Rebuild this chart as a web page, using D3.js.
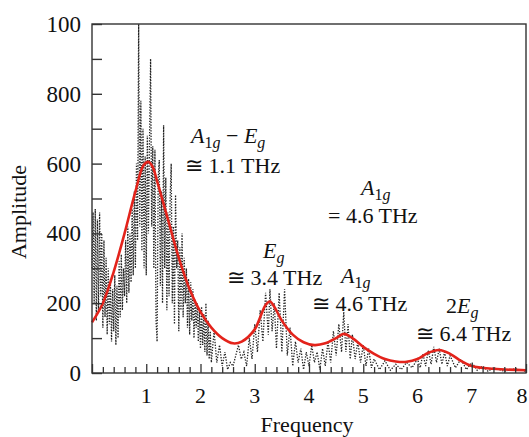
<!DOCTYPE html>
<html><head><meta charset="utf-8">
<script src="https://cdn.jsdelivr.net/npm/d3@7"></script>
<style>body{margin:0;background:#fff}svg{display:block}</style>
</head><body>
<svg id="c" width="529" height="437" font-family="Liberation Serif, Times New Roman, serif"></svg>
<script>
// fitted (red) curve: frequency, amplitude
const fitFreq = [0,0.2,0.4,0.6,0.8,0.95,1.04,1.12,1.2,1.4,1.6,1.8,2.0,2.2,2.4,2.6,2.76,3.0,3.1,3.2,3.28,3.36,3.5,3.7,3.9,4.1,4.3,4.5,4.64,4.8,5.0,5.2,5.4,5.6,5.8,6.0,6.2,6.4,6.6,6.8,7.0,7.4,8.0];
const fitAmp  = [145,200,290,400,520,595,605,590,550,440,330,240,175,130,100,85,90,125,160,195,205,190,150,110,88,80,85,100,112,100,75,55,40,33,32,40,58,66,55,35,20,12,8];
// measured (dotted) spectrum
const rawFreq = [0,0.02,0.04,0.06,0.08,0.10,0.12,0.14,0.16,0.18,0.20,0.22,0.24,0.26,0.28,0.30,0.32,0.34,0.36,0.38,0.40,0.42,0.44,0.46,0.48,0.50,0.52,0.54,0.56,0.58,0.60,0.62,0.64,0.66,0.68,0.70,0.72,0.74,0.76,0.78,0.80,0.82,0.84,0.86,0.88,0.90,0.92,0.94,0.96,0.98,1.00,1.02,1.04,1.06,1.08,1.10,1.12,1.14,1.16,1.18,1.20,1.22,1.24,1.26,1.28,1.30,1.32,1.34,1.36,1.38,1.40,1.42,1.44,1.46,1.48,1.50,1.52,1.54,1.56,1.58,1.60,1.62,1.64,1.66,1.68,1.70,1.72,1.74,1.76,1.78,1.80,1.82,1.84,1.86,1.88,1.90,1.92,1.94,1.96,1.98,2.00,2.02,2.04,2.06,2.08,2.10,2.12,2.14,2.16,2.18,2.20,2.25,2.30,2.35,2.40,2.45,2.50,2.55,2.60,2.65,2.70,2.75,2.80,2.85,2.90,2.95,3.00,3.05,3.10,3.15,3.20,3.25,3.28,3.32,3.36,3.40,3.45,3.50,3.55,3.60,3.65,3.70,3.75,3.80,3.85,3.90,3.95,4.00,4.05,4.10,4.15,4.20,4.25,4.30,4.35,4.40,4.45,4.50,4.55,4.60,4.64,4.68,4.72,4.76,4.80,4.85,4.90,4.95,5.00,5.05,5.10,5.15,5.20,5.30,5.40,5.50,5.60,5.70,5.80,5.90,6.00,6.05,6.10,6.15,6.20,6.25,6.30,6.35,6.40,6.45,6.50,6.55,6.60,6.70,6.80,6.90,7.00,7.10,7.20,7.30,7.40,7.60,7.80,8.00];
const rawAmp  = [300,460,200,470,150,440,180,460,220,400,130,380,160,330,110,300,140,260,90,240,120,280,80,250,100,320,160,340,180,300,220,380,200,420,230,400,260,470,280,520,300,600,380,1000,420,780,350,700,300,620,280,680,400,660,900,420,650,300,640,150,90,560,610,250,520,200,710,300,560,180,460,220,500,600,200,420,140,510,300,380,120,360,180,400,160,330,200,300,130,270,110,260,150,240,100,210,130,200,90,180,70,190,80,170,60,200,50,150,40,120,30,120,30,80,20,60,10,30,20,50,80,40,60,20,100,40,140,60,180,90,230,110,240,120,200,70,230,60,240,50,130,20,90,30,70,10,60,20,80,30,60,10,70,20,90,30,120,50,140,60,175,60,140,40,110,40,90,30,80,20,70,15,40,10,35,8,25,10,30,15,40,15,55,20,65,25,75,30,70,25,60,20,50,15,40,10,30,8,20,5,15,5,12,5];
const yTickValues = [0,200,400,600,800,1000];
const yTickLabels = ["0","200","400","600","800","100"];
const xTickValues = [1,2,3,4,5,6,7,8];
const xTickLabels = ["1","2","3","4","5","6","7","8"];

const svg = d3.select("#c");
const L=92,R=526,T=24,B=373;
const x = d3.scaleLinear().domain([0,8]).range([L,R]);
const y = d3.scaleLinear().domain([0,1000]).range([B,T]);

const raw = rawFreq.map((f,i)=>[f,rawAmp[i]]);
const fit = fitFreq.map((f,i)=>[f,fitAmp[i]]);

svg.append("path").datum(raw)
  .attr("d", d3.line().x(d=>x(d[0])).y(d=>y(d[1])))
  .attr("fill","none").attr("stroke","#222").attr("stroke-width",1.3)
  .attr("stroke-dasharray","1.3,1.5");

svg.append("path").datum(fit)
  .attr("d", d3.line().curve(d3.curveCatmullRom.alpha(0.5)).x(d=>x(d[0])).y(d=>y(d[1])))
  .attr("fill","none").attr("stroke","#e3231b").attr("stroke-width",2.6);

// frame
svg.append("rect").attr("x",L).attr("y",T).attr("width",R-L).attr("height",B-T)
  .attr("fill","none").attr("stroke","#333").attr("stroke-width",1.4);

// y axis
const yAx = d3.axisLeft(y).tickValues(d3.range(0,1001,100)).tickSize(-10).tickFormat("");
const gy = svg.append("g").attr("transform",`translate(${L},0)`).call(yAx);
gy.select(".domain").remove();
gy.selectAll("line").attr("stroke","#333").attr("stroke-width",1.4);
svg.append("g").selectAll("text").data(yTickValues).join("text")
  .attr("x",L-11).attr("y",d=>y(d)).attr("dy","0.35em").attr("text-anchor","end")
  .attr("font-size",23).attr("fill","#111").text((d,i)=>yTickLabels[i]);

// x axis
const xMinor = d3.axisBottom(x).tickValues(d3.range(0,8.01,0.2).filter(v=>Math.abs(v-Math.round(v))>1e-6)).tickSize(-6).tickFormat("");
const gx1 = svg.append("g").attr("transform",`translate(0,${B})`).call(xMinor);
const xMajor = d3.axisBottom(x).tickValues(d3.range(0,9,1)).tickSize(-9).tickFormat("");
const gx2 = svg.append("g").attr("transform",`translate(0,${B})`).call(xMajor);
[gx1,gx2].forEach(g=>{g.select(".domain").remove();g.selectAll("line").attr("stroke","#333").attr("stroke-width",1.3);});
svg.append("g").selectAll("text").data(xTickValues).join("text")
  .attr("x",d=>Math.min(x(d),522)).attr("y",403).attr("text-anchor","middle")
  .attr("font-size",22).attr("fill","#111").text((d,i)=>xTickLabels[i]);

svg.append("text").attr("x",307).attr("y",432).attr("text-anchor","middle").attr("font-size",22).attr("fill","#111").text("Frequency");
svg.append("text").attr("transform","translate(26,212) rotate(-90)").attr("text-anchor","middle").attr("font-size",22).attr("fill","#111").text("Amplitude");

// annotations
const FS = 22, SS = 16, SH = 5;
function label(x0,y0,parts){
  const tx = svg.append("text").attr("x",x0).attr("y",y0).attr("font-size",FS).attr("fill","#111");
  let low = false;
  parts.forEach(p=>{
    const s = tx.append("tspan").text(p.t);
    if(p.i) s.attr("font-style","italic");
    if(p.sub){ s.attr("font-size",SS); if(!low){ s.attr("dy",SH); low=true; } }
    else if(low){ s.attr("dy",-SH); low=false; }
  });
}
label(191,143,[{t:"A",i:1},{t:"1",sub:1},{t:"g",i:1,sub:1},{t:" − "},{t:"E",i:1},{t:"g",i:1,sub:1}]);
label(185,173,[{t:"≅ 1.1 THz"}]);
label(361,195,[{t:"A",i:1},{t:"1",sub:1},{t:"g",i:1,sub:1}]);
label(328,223,[{t:"= 4.6 THz"}]);
label(263,258,[{t:"E",i:1},{t:"g",i:1,sub:1}]);
label(227,285,[{t:"≅ 3.4 THz"}]);
label(341,283,[{t:"A",i:1},{t:"1",sub:1},{t:"g",i:1,sub:1}]);
label(312,311,[{t:"≅ 4.6 THz"}]);
label(446,313,[{t:"2"},{t:"E",i:1},{t:"g",i:1,sub:1}]);
label(416,341,[{t:"≅ 6.4 THz"}]);
</script>
</body></html>
